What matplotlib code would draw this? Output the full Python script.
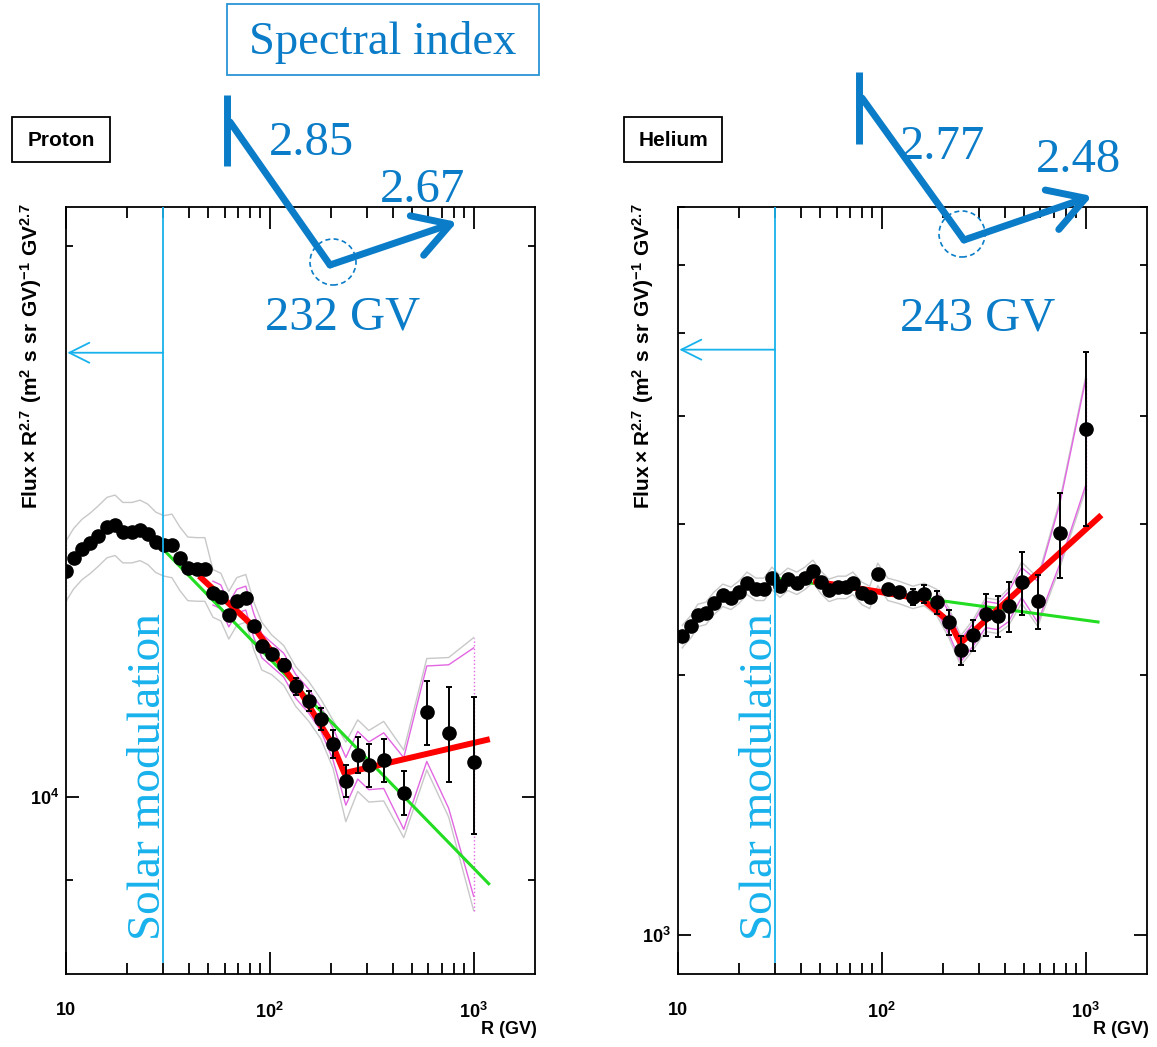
import matplotlib
matplotlib.use('Agg')
import matplotlib.pyplot as plt
import numpy as np
from matplotlib.lines import Line2D
from matplotlib.patches import Ellipse, FancyArrowPatch, Rectangle
from matplotlib.ticker import FixedLocator, NullFormatter

plt.rcParams['font.family'] = ['Liberation Sans', 'DejaVu Sans']
plt.rcParams['mathtext.fontset'] = 'custom'
plt.rcParams['mathtext.rm'] = 'Liberation Sans'
plt.rcParams['mathtext.bf'] = 'Liberation Sans:bold'

# ---- proton: flux x R^2.7 ----
p_rig = [10, 10.9, 12.0, 13.1, 14.3, 15.9, 17.4, 19.0, 21.1, 23.1, 25.2, 27.6, 30.2,
         33.1, 36.2, 39.6, 43.9, 48.0, 52.6, 57.5, 62.9, 68.9, 76.2, 83.5, 91.4,
         102, 117, 134, 155, 178, 204, 236, 270, 306, 362, 454, 589, 754, 1000]
p_flux = [13290, 13500, 13660, 13760, 13880, 14040, 14080, 13950, 13950, 13990, 13920, 13780, 13720,
          13720, 13500, 13330, 13320, 13320, 12920, 12860, 12570, 12790, 12840, 12400, 12090,
          11960, 11800, 11490, 11280, 11030, 10690, 10200, 10540, 10400, 10470, 10050, 11120, 10830, 10440]
p_err = [40, 40, 40, 40, 40, 40, 40, 40, 40, 40, 40, 40, 40,
         40, 45, 45, 50, 50, 55, 55, 60, 60, 65, 70, 75,
         80, 90, 120, 140, 150, 190, 210, 240, 280, 285, 280, 450, 650, 900]
# systematic bands, % half width (gray = total, pink = inner)
p_gray = [3.8, 3.8, 3.8, 3.8, 3.8, 3.8, 3.8, 3.8, 3.8, 3.8, 3.8, 3.8, 3.8,
          4.0, 4.0, 4.0, 4.0, 4.0, 3.0, 3.0, 3.0, 3.0, 3.0, 3.0, 3.0,
          2.5, 2.5, 2.5, 2.5, 2.5, 3.0, 5.0, 4.5, 4.5, 5.0, 5.5, 7.0, 10.0, 17.0]
p_pink = [0, 0, 0, 0, 0, 0, 0, 0, 0, 0, 0, 0, 0,
          0, 0, 0, 0, 0, 1.5, 1.5, 1.5, 1.5, 1.5, 1.5, 1.5,
          1.5, 1.5, 1.5, 1.5, 1.5, 2.0, 3.0, 3.0, 3.0, 3.5, 4.5, 6.0, 9.0, 15.5]
p_pl_rig = [30, 1200]
p_pl_flux = [13650, 8950]
p_bpl_rig = [45, 82.5, 136, 201, 232, 1200]
p_bpl_flux = [13200, 12400, 11490, 10700, 10300, 10750]

# ---- helium ----
h_rig = [10.5, 11.6, 12.5, 13.7, 15.0, 16.6, 18.2, 19.9, 21.8, 24.1, 26.4, 28.9, 31.6, 34.6,
         38.3, 41.9, 45.9, 50.2, 55.0, 60.8, 66.6, 72.1, 79.8, 87.3, 95.5, 107, 121, 142,
         161, 186, 213, 244, 279, 323, 370, 419, 485, 582, 746, 1000]
h_flux = [2221, 2281, 2349, 2362, 2426, 2479, 2459, 2499, 2560, 2519, 2519, 2594, 2540, 2587,
          2560, 2594, 2643, 2567, 2512, 2532, 2532, 2560, 2492, 2465, 2622, 2519, 2499, 2465,
          2485, 2433, 2305, 2139, 2227, 2355, 2343, 2406, 2567, 2439, 2927, 3866]
h_err = [20, 20, 20, 20, 20, 20, 20, 20, 20, 20, 20, 20, 20, 20,
         20, 20, 20, 22, 22, 22, 24, 24, 26, 28, 30, 32, 36, 53,
         60, 73, 75, 81, 91, 130, 129, 159, 215, 176, 330, 885]
h_gray = [3.0, 3.0, 3.0, 3.0, 3.0, 3.0, 3.0, 3.0, 3.0, 3.0, 3.0, 3.0, 3.0, 3.0,
          3.0, 3.0, 3.0, 3.0, 3.0, 3.0, 3.0, 3.0, 3.0, 3.0, 3.0, 3.0, 3.0, 3.0,
          3.0, 3.5, 4.0, 4.0, 4.0, 4.5, 4.5, 5.0, 5.5, 6.5, 9.0, 15.0]
h_pink = [0, 0, 0, 0, 0, 0, 0, 0, 0, 0, 0, 0, 0, 0,
          0, 0, 0, 0, 0, 0, 0, 0, 0, 0, 0, 0, 0, 0,
          0, 2.5, 3.0, 3.0, 3.0, 3.5, 3.5, 4.0, 4.0, 5.5, 8.0, 14.0]
h_pl_rig = [30, 1170]
h_pl_flux = [2594, 2306]
h_bpl_rig = [46, 87, 158, 215, 243, 1195]
h_bpl_flux = [2573, 2512, 2453, 2306, 2180, 3071]

x_major = [10, 100, 1000]
x_major_labels = ['10', r'$\mathbf{10^{2}}$', r'$\mathbf{10^{3}}$']
x_minor = [20, 30, 40, 50, 60, 70, 80, 90, 200, 300, 400, 500, 600, 700, 800, 900]

W, H = 1157, 1047
fig = plt.figure(figsize=(W / 100, H / 100), dpi=100)


def fxy(x, y):
    # pixel position measured from the top-left corner -> figure fraction
    return x / W, 1 - y / H


BLUE = '#0a7cc8'
CYAN = '#18b2ec'
ylab = r'$\mathbf{Flux \times R^{2.7}\ (m^{2}\ s\ sr\ GV)^{-1}\ GV^{2.7}}$'

panels = [
    dict(name='Proton', left=66, rig=p_rig, flux=p_flux, err=p_err, gray=p_gray, pink=p_pink,
         pl=(p_pl_rig, p_pl_flux), bpl=(p_bpl_rig, p_bpl_flux), ylim=(8000, 21000),
         ymaj=[1e4], ymaj_lab=[r'$\mathbf{10^{4}}$'], ymin=[9000, 20000], arrow_y=0.81),
    dict(name='Helium', left=678, rig=h_rig, flux=h_flux, err=h_err, gray=h_gray, pink=h_pink,
         pl=(h_pl_rig, h_pl_flux), bpl=(h_bpl_rig, h_bpl_flux), ylim=(900, 7000),
         ymaj=[1e3], ymaj_lab=[r'$\mathbf{10^{3}}$'], ymin=[2000, 3000, 4000, 5000, 6000, 7000],
         arrow_y=0.814),
]

for p in panels:
    x0 = p['left']
    ax = fig.add_axes([x0 / W, (H - 974) / H, 469 / W, 767 / H])
    ax.set_xscale('log')
    ax.set_yscale('log')
    ax.set_xlim(10, 2000)
    ax.set_ylim(*p['ylim'])

    R = np.array(p['rig'])
    F = np.array(p['flux'])
    g = np.array(p['gray']) / 100
    ax.plot(R, F * (1 + g), color='#c8c8c8', lw=1.0, zorder=1)
    ax.plot(R, F * (1 - g), color='#c8c8c8', lw=1.0, zorder=1)
    ax.plot([R[0], R[0]], [F[0] * (1 - g[0]), F[0] * (1 + g[0])], color='#c8c8c8', lw=1, ls=':', zorder=1)
    pk = np.array(p['pink']) / 100
    m = pk > 0
    ax.plot(R[m], F[m] * (1 + pk[m]), color='#e266e2', lw=1.0, zorder=2)
    ax.plot(R[m], F[m] * (1 - pk[m]), color='#e266e2', lw=1.0, zorder=2)
    ax.plot([R[-1], R[-1]], [F[-1] * (1 - g[-1]), F[-1] * (1 + g[-1])], color='#e266e2', lw=1, ls=':', zorder=2)

    ax.plot(*p['pl'], color='#22dd22', lw=2.2, zorder=3, solid_capstyle='butt')
    ax.plot(*p['bpl'], color='#ff0000', lw=4.3, zorder=4, solid_capstyle='butt')
    ax.errorbar(R, F, yerr=p['err'], fmt='o', color='black', ms=9.5, elinewidth=1.4,
                capsize=2.5, capthick=1.4, zorder=5)

    # solar modulation marker
    ax.axvline(30, ymin=0.016, ymax=1, color=CYAN, lw=1.3, zorder=6)
    ax.annotate('', xy=(10.15, p['arrow_y']), xytext=(30, p['arrow_y']),
                xycoords=('data', 'axes fraction'), textcoords=('data', 'axes fraction'),
                arrowprops=dict(arrowstyle='->,head_length=0.9,head_width=0.45', color=CYAN, lw=1.3,
                                shrinkA=0, shrinkB=0, mutation_scale=16))

    ax.xaxis.set_major_locator(FixedLocator(x_major))
    ax.xaxis.set_minor_locator(FixedLocator(x_minor))
    ax.set_xticklabels(x_major_labels, fontsize=13, fontweight='bold')
    ax.xaxis.set_minor_formatter(NullFormatter())
    ax.yaxis.set_major_locator(FixedLocator(p['ymaj']))
    ax.yaxis.set_minor_locator(FixedLocator(p['ymin']))
    ax.set_yticklabels(p['ymaj_lab'], fontsize=13, fontweight='bold')
    ax.yaxis.set_minor_formatter(NullFormatter())
    ax.tick_params(which='both', direction='in', top=True, right=True, width=1.3)
    ax.xaxis.set_tick_params(which='major', length=16, pad=20)
    ax.xaxis.set_tick_params(which='minor', length=8)
    ax.yaxis.set_tick_params(which='major', length=9.5, pad=5)
    ax.yaxis.set_tick_params(which='minor', length=5)
    for s in ax.spines.values():
        s.set_linewidth(1.3)

    fig.text(*fxy(x0 + 471, 1030), 'R (GV)', ha='right', va='center', fontsize=13, fontweight='bold')
    fig.text(*fxy(x0 - 35, 203), ylab, rotation=90, ha='center', va='top', fontsize=15)
    fig.text(*fxy(x0 + 83, 940), 'Solar modulation', rotation=90, ha='center', va='bottom',
             fontsize=34, color=CYAN, family='Liberation Serif')

    # particle name box
    bx = x0 - 54
    fig.add_artist(Rectangle(fxy(bx, 162), 98 / W, 45 / H, transform=fig.transFigure,
                             fill=False, ec='black', lw=1.3))
    fig.text(*fxy(bx + 49, 140), p['name'], ha='center', va='center', fontsize=15, fontweight='bold')

# ---- spectral index schematics ----
fig.add_artist(Rectangle(fxy(227, 75), 312 / W, 71 / H, transform=fig.transFigure,
                         fill=False, ec='#2a94d6', lw=1.3))
fig.text(*fxy(383, 42), 'Spectral index', ha='center', va='center', fontsize=33.5,
         color=BLUE, family='Liberation Serif')

schemes = [
    dict(bar=(227, 95, 166), start=(230, 122), vert=(330, 265), tip=(457, 222), circ=(333, 262),
         texts=[('2.85', 311, 143), ('2.67', 422, 190), ('232 GV', 343, 317)]),
    dict(bar=(859, 72, 144), start=(862, 98), vert=(964, 240), tip=(1092, 196), circ=(962, 234),
         texts=[('2.77', 942, 147), ('2.48', 1078, 160), ('243 GV', 978, 318)]),
]
for s in schemes:
    bx, by0, by1 = s['bar']
    fig.add_artist(Line2D([fxy(bx, by0)[0]] * 2, [fxy(bx, by0)[1], fxy(bx, by1)[1]],
                          transform=fig.transFigure, color=BLUE, lw=5, solid_capstyle='butt'))
    a, b = fxy(*s['start']), fxy(*s['vert'])
    fig.add_artist(Line2D([a[0], b[0]], [a[1], b[1]], transform=fig.transFigure, color=BLUE, lw=5,
                          solid_capstyle='round'))
    fig.add_artist(FancyArrowPatch(fxy(*s['vert']), fxy(*s['tip']), transform=fig.transFigure,
                                   arrowstyle='->,head_length=0.85,head_width=0.5', mutation_scale=30,
                                   color=BLUE, lw=5, shrinkA=0, shrinkB=0, capstyle='round',
                                   joinstyle='round'))
    cx, cy = fxy(*s['circ'])
    fig.add_artist(Ellipse((cx, cy), 46 / W, 46 / H, transform=fig.transFigure,
                           fill=False, ec=BLUE, lw=1.2, ls=(0, (3, 2))))
    for t, tx, ty in s['texts']:
        fig.text(*fxy(tx, ty), t, ha='center', va='center', fontsize=35, color=BLUE,
                 family='Liberation Serif')

fig.savefig('out.png', dpi=100)
